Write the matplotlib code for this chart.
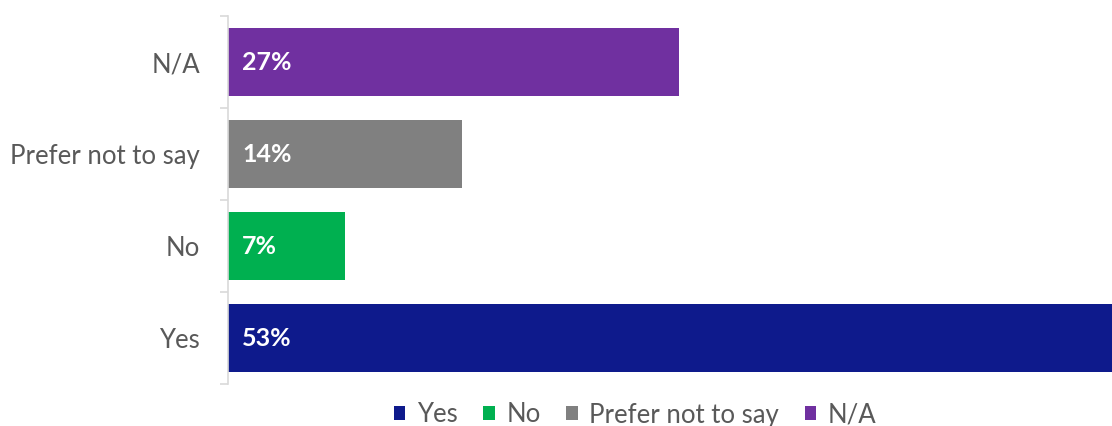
import matplotlib.pyplot as plt
from matplotlib.patches import Patch

# answer categories, bottom to top
categories = ["Yes", "No", "Prefer not to say", "N/A"]
shares = [53, 7, 14, 27]
colors = ["#0E1A8C", "#00B050", "#808080", "#7030A0"]

plt.rcParams['font.family'] = ['Lato', 'DejaVu Sans']

fig = plt.figure(figsize=(11.12, 4.26), dpi=100)
ax = fig.add_axes([228 / 1112, 42 / 426, 884 / 1112, 368 / 426])

ypos = list(range(len(categories)))
ax.barh(ypos, shares, height=0.74, color=colors, clip_on=True)

# value labels just inside the left end of each bar
for y, v in zip(ypos, shares):
    ax.text(0.85, y, f"{v}%", color="white", fontweight="bold",
            fontsize=18, va="center", ha="left")

ax.set_xlim(0, 52.9)
ax.set_ylim(-0.5, len(categories) - 0.5)
ax.set_yticks(ypos)
ax.set_yticklabels(categories, fontsize=18.5, color="#595959")
ax.tick_params(axis="y", which="major", length=0, pad=20)
ax.set_yticks([i - 0.5 for i in range(len(categories) + 1)], minor=True)
ax.tick_params(axis="y", which="minor", length=6, width=1.2, color="#d9d9d9")
ax.set_xticks([])

for s in ["top", "right", "bottom"]:
    ax.spines[s].set_visible(False)
ax.spines["left"].set_color("#d9d9d9")
ax.spines["left"].set_linewidth(1.2)

handles = [Patch(facecolor=c, edgecolor="none") for c in colors]
fig.legend(handles, categories, loc="center", bbox_to_anchor=(635 / 1112, 11 / 426),
           ncol=4, frameon=False, fontsize=18.5, labelcolor="#595959",
           handlelength=0.45, handleheight=0.45, handletextpad=0.45, columnspacing=1.0)

fig.savefig("out.png", dpi=100)
